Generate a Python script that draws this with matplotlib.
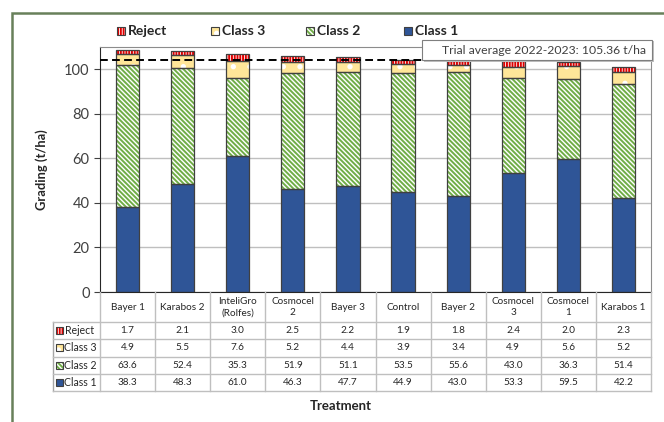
import numpy as np
import matplotlib
matplotlib.use("Agg")
import matplotlib.pyplot as plt
import matplotlib.transforms as mtransforms
from matplotlib.patches import Rectangle
from matplotlib.lines import Line2D

treatments = ["Bayer 1", "Karabos 2", "InteliGro\n(Rolfes)", "Cosmocel\n2", "Bayer 3",
              "Control", "Bayer 2", "Cosmocel\n3", "Cosmocel\n1", "Karabos 1"]
class1 = [38.3, 48.3, 61.0, 46.3, 47.7, 44.9, 43.0, 53.3, 59.5, 42.2]
class2 = [63.6, 52.4, 35.3, 51.9, 51.1, 53.5, 55.6, 43.0, 36.3, 51.4]
class3 = [4.9, 5.5, 7.6, 5.2, 4.4, 3.9, 3.4, 4.9, 5.6, 5.2]
reject = [1.7, 2.1, 3.0, 2.5, 2.2, 1.9, 1.8, 2.4, 2.0, 2.3]
avg_label = "Trial average 2022-2023: 105.36 t/ha"
avg_line = 104.0

plt.rcParams['font.family'] = ['Lato', 'DejaVu Sans']
plt.rcParams['hatch.linewidth'] = 1.4

W, H = 664, 422
fig = plt.figure(figsize=(W / 100, H / 100), dpi=100)
fig.patch.set_facecolor("white")

def fx(px):
    return px / W

def fy(py):
    return 1 - py / H

ax = fig.add_axes([fx(100), fy(292), 551 / W, 245 / H])

# (name, values, face, hatch, hatch colour)
series = [
    ("Class 1", class1, "#2F5597", None, "#2F5597"),
    ("Class 2", class2, "white", "\\" * 7, "#70AD47"),
    ("Class 3", class3, "#FFE699", ".", "white"),
    ("Reject", reject, "white", "|" * 6, "#E00000"),
]

x = np.arange(len(treatments))
bw = 0.42
bottom = np.zeros(len(treatments))
for name, vals, face, hatch, hcol in series:
    vals = np.array(vals)
    ax.bar(x, vals, bw, bottom=bottom, color=face, hatch=hatch, edgecolor=hcol, lw=0, zorder=2)
    ax.bar(x, vals, bw, bottom=bottom, fill=False, edgecolor="#404040", lw=0.9, zorder=3)
    bottom += vals

ax.axhline(avg_line, color="black", ls=(0, (4, 2.2)), lw=1.4, zorder=4)

ax.set_xlim(-0.5, len(treatments) - 0.5)
ax.set_ylim(0, 110)
ax.set_yticks(range(0, 101, 20))
ax.set_xticks([])
ax.yaxis.grid(True, color="#BFBFBF", lw=1)
ax.set_axisbelow(True)
ax.tick_params(axis="y", length=4, color="#404040", labelsize=10.5, labelcolor="#404040")
for s in ["left", "bottom"]:
    ax.spines[s].set_color("#262626")
for s in ["top", "right"]:
    ax.spines[s].set_color("#8C8C8C")

# table under the chart
trans = mtransforms.blended_transform_factory(ax.transData, fig.transFigure)
row_edges = [322, 339.3, 356.6, 373.9, 391.2]
x_left = -0.5 - 47 / 55.1
grid_c = "#BFBFBF"
for i in range(len(treatments) + 1):
    fig.add_artist(Line2D([i - 0.5, i - 0.5], [fy(292), fy(row_edges[-1])], transform=trans,
                          color=grid_c, lw=1))
fig.add_artist(Line2D([x_left, x_left], [fy(row_edges[0]), fy(row_edges[-1])], transform=trans,
                      color="#A6A6A6", lw=1))
for e in row_edges:
    fig.add_artist(Line2D([x_left, len(treatments) - 0.5], [fy(e), fy(e)], transform=trans,
                          color=grid_c, lw=1))

for i, t in enumerate(treatments):
    fig.text(i, fy(307), t, transform=trans, ha="center", va="center", fontsize=7.2,
             color="#262626", linespacing=1.35)

table_rows = [series[3], series[2], series[1], series[0]]
for r, (name, vals, face, hatch, hcol) in enumerate(table_rows):
    yc = (row_edges[r] + row_edges[r + 1]) / 2
    for i, v in enumerate(vals):
        fig.text(i, fy(yc), f"{v:.1f}", transform=trans, ha="center", va="center",
                 fontsize=7.2, color="#262626")
    fig.add_artist(Rectangle((fx(56), fy(yc + 3.5)), 7 / W, 7 / H, transform=fig.transFigure,
                             facecolor=face, hatch=hatch, edgecolor=hcol, lw=0))
    fig.add_artist(Rectangle((fx(56), fy(yc + 3.5)), 7 / W, 7 / H, transform=fig.transFigure,
                             fill=False, edgecolor="#404040", lw=0.8))
    fig.text(fx(64.5), fy(yc), name, ha="left", va="center", fontsize=7.6, color="#262626")

# legend on top
legend_pos = {"Reject": 121, "Class 3": 215, "Class 2": 310, "Class 1": 408}
for name, vals, face, hatch, hcol in series:
    lx = legend_pos[name]
    fig.add_artist(Rectangle((fx(lx - 4), fy(35)), 8 / W, 8 / H, transform=fig.transFigure,
                             facecolor=face, hatch=hatch, edgecolor=hcol, lw=0))
    fig.add_artist(Rectangle((fx(lx - 4), fy(35)), 8 / W, 8 / H, transform=fig.transFigure,
                             fill=False, edgecolor="#404040", lw=0.8))
    fig.text(fx(lx + 7), fy(31), name, ha="left", va="center", fontsize=10,
             fontweight="bold", color="#262626")

# trial average box
fig.add_artist(Rectangle((fx(424), fy(62)), 230 / W, 21 / H, transform=fig.transFigure,
                         facecolor="#BFBFBF", edgecolor="none"))
fig.add_artist(Rectangle((fx(422), fy(60)), 230 / W, 20 / H, transform=fig.transFigure,
                         facecolor="white", edgecolor="#7F7F7F", lw=0.8))
fig.text(fx(646), fy(50), avg_label, ha="right", va="center", fontsize=8.8, color="#404040")

fig.text(fx(42), fy(169.5), "Grading (t/ha)", rotation=90, ha="center", va="center",
         fontsize=9.3, fontweight="bold", color="#262626")
fig.text(fx(341), fy(406), "Treatment", ha="center", va="center",
         fontsize=9.5, fontweight="bold", color="#262626")

# outer chart border
fig.add_artist(Rectangle((fx(12), -0.1), 1.2, fy(13) + 0.1, transform=fig.transFigure,
                         fill=False, edgecolor="#68805A", lw=1.8))

fig.savefig("out.png", dpi=100)
